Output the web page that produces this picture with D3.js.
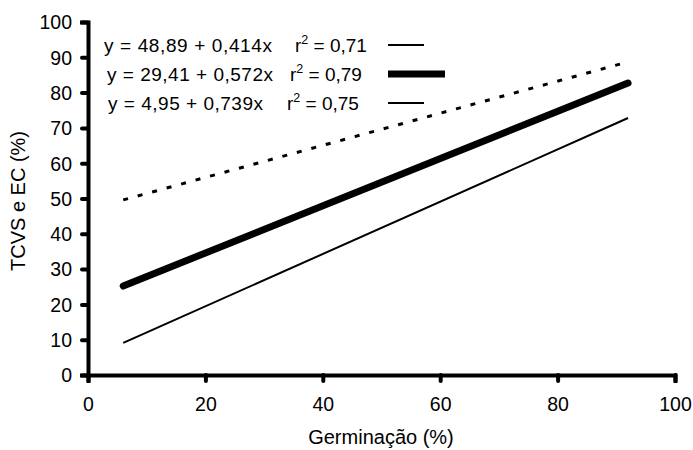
<!DOCTYPE html>
<html><head><meta charset="utf-8">
<script src="https://cdn.jsdelivr.net/npm/d3@7"></script>
<style>body{margin:0;background:#fff}svg{display:block}text{font-family:"Liberation Sans",Arial,sans-serif;fill:#000}</style>
</head><body><div id="chart"></div>
<script>
const xTicks = [0,20,40,60,80,100];
const yTicks = [0,10,20,30,40,50,60,70,80,90,100];
const germX = [6, 92];
const seriesA = [49.6, 88.7];   // dashed
const seriesB = [25.2, 82.7];   // thick
const seriesC = [9.1, 72.8];    // thin
const equations = ["y = 48,89 + 0,414x", "y = 29,41 + 0,572x", "y = 4,95 + 0,739x"];
const r2values = ["0,71", "0,79", "0,75"];
const xTitle = "Germinação (%)";
const yTitle = "TCVS e EC (%)";

const W = 693, H = 450;
const svg = d3.select("#chart").append("svg").attr("width", W).attr("height", H);
const x = d3.scaleLinear().domain([0,100]).range([88, 675]);
const y = d3.scaleLinear().domain([0,100]).range([375, 22]);

// axes
const xAxis = d3.axisBottom(x).tickValues(xTicks).tickSize(6).tickPadding(16);
const yAxis = d3.axisLeft(y).tickValues(yTicks).tickSize(6).tickPadding(10);
const gx = svg.append("g").attr("transform", `translate(0,${y(0)})`).call(xAxis);
const gy = svg.append("g").attr("transform", `translate(${x(0)},0)`).call(yAxis);
[gx, gy].forEach(g => {
  g.select(".domain").attr("stroke", "#000").attr("stroke-width", 4).attr("stroke-linecap","square");
  g.selectAll(".tick line").attr("stroke", "#000").attr("stroke-width", 4).attr("stroke-linecap","round");
  g.selectAll(".tick text").style("font-size", "19.5px").style("font-family", '"Liberation Sans",Arial,sans-serif').attr("fill","#000");
});
gy.selectAll(".tick text").attr("dy", "0.35em");
gx.selectAll(".tick text").attr("dy", "0.71em");

// titles
svg.append("text").attr("x", 381).attr("y", 444).attr("text-anchor","middle").style("font-size","20px").text(xTitle);
svg.append("text").attr("transform", "translate(25,201) rotate(-90)").attr("text-anchor","middle").style("font-size","20px").text(yTitle);

// data lines
const line = d3.line().x(d => x(d[0])).y(d => y(d[1]));
const mk = arr => germX.map((g,i) => [g, arr[i]]);
svg.append("path").datum(mk(seriesA)).attr("d", line).attr("fill","none").attr("stroke","#000")
  .attr("stroke-width", 3).attr("stroke-dasharray", "5,10");
svg.append("path").datum(mk(seriesB)).attr("d", line).attr("fill","none").attr("stroke","#000")
  .attr("stroke-width", 7).attr("stroke-linecap","round");
svg.append("path").datum(mk(seriesC)).attr("d", line).attr("fill","none").attr("stroke","#000")
  .attr("stroke-width", 2);

// legend
const eqX = [104, 107, 108];
const eqW = [168, 166, 155];
const rX = [295, 290, 287];
const base = [52, 81, 110];
const sampleW = [2, 7, 2];
const sampleEnd = [424, 445, 424];
equations.forEach((eq, i) => {
  svg.append("text").attr("x", eqX[i]).attr("y", base[i]).style("font-size","19px")
    .attr("textLength", eqW[i]).attr("lengthAdjust","spacing").text(eq);
  const t = svg.append("text").attr("x", rX[i]).attr("y", base[i]).style("font-size","19px");
  t.append("tspan").text("r");
  t.append("tspan").attr("dy", -8).style("font-size","12.5px").text("2");
  t.append("tspan").attr("dy", 8).text(" = " + r2values[i]);
  svg.append("line").attr("x1", 388).attr("x2", sampleEnd[i]).attr("y1", base[i]-7).attr("y2", base[i]-7)
    .attr("stroke","#000").attr("stroke-width", sampleW[i]);
});
</script></body></html>
